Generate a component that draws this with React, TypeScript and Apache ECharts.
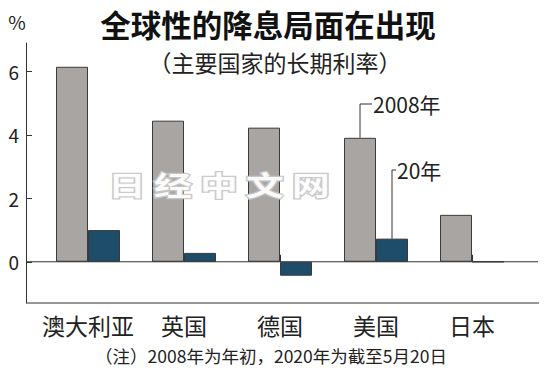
import React, { useEffect, useRef } from "react";
import * as echarts from "echarts";

const categories = ["澳大利亚", "英国", "德国", "美国", "日本"];
const rates2008 = [6.15, 4.45, 4.23, 3.91, 1.48];
const rates2020 = [1.0, 0.28, -0.44, 0.73, 0.0];
const yTicks = [0, 2, 4, 6];
const titleText = "全球性的降息局面在出现";
const subtitleText = "（主要国家的长期利率）";
const noteText = "（注）2008年为年初，2020年为截至5月20日";
const label2008 = "2008年";
const label2020 = "20年";
const unitText = "%";
const watermarkChars = ["日", "经", "中", "文", "网"];

const FONT = '"Noto Sans CJK SC", "Noto Sans", sans-serif';
const GRAY = "#a9a5a3";
const BLUE = "#1e4d6b";
const EDGE = "#3a3a3a";
const AXIS = "#333";
const BAR_W = 32;

export default function App() {
  const ref = useRef<HTMLDivElement>(null);
  useEffect(() => {
    document.body.style.margin = "0";
    if (!ref.current) return;
    const chart = echarts.init(ref.current, null, { renderer: "svg", width: 550, height: 374 });
    const option: any = {
      animation: false,
      backgroundColor: "#fff",
      textStyle: { fontFamily: FONT },
      grid: { left: 40, right: 30, top: 43, bottom: 71 },
      xAxis: {
        type: "category",
        data: categories,
        axisLine: { show: false },
        axisTick: { show: true, inside: true, alignWithLabel: true, length: 7, lineStyle: { color: AXIS } },
        axisLabel: { interval: 0, fontSize: 23, margin: 10, color: "#222", fontFamily: FONT },
      },
      yAxis: {
        type: "value",
        min: -1.3,
        max: 6.9,
        offset: 14,
        axisLine: { show: true, lineStyle: { color: AXIS } },
        axisTick: { show: true, inside: true, length: 6, customValues: yTicks, lineStyle: { color: AXIS } },
        axisLabel: { customValues: yTicks, fontSize: 19, color: "#222", margin: 7, fontFamily: FONT },
        splitLine: { show: false },
      },
      series: [
        {
          name: "2008年",
          type: "bar",
          data: rates2008,
          barWidth: BAR_W,
          barGap: "0%",
          itemStyle: { color: GRAY, borderColor: EDGE, borderWidth: 1 },
        },
        {
          name: "2020年",
          type: "bar",
          data: rates2020,
          barWidth: BAR_W,
          barGap: "0%",
          itemStyle: { color: BLUE, borderColor: EDGE, borderWidth: 1 },
        },
      ],
    };
    chart.setOption(option);

    const y0 = chart.convertToPixel({ yAxisIndex: 0 }, 0) as number;
    const yMin = chart.convertToPixel({ yAxisIndex: 0 }, -1.3) as number;
    const cxUS = chart.convertToPixel({ xAxisIndex: 0 }, categories[3]) as number;
    const yUS08 = chart.convertToPixel({ yAxisIndex: 0 }, rates2008[3]) as number;
    const yUS20 = chart.convertToPixel({ yAxisIndex: 0 }, rates2020[3]) as number;
    const gx = cxUS - BAR_W / 2;
    const bx = cxUS + BAR_W / 2;
    const lbl08Y = 104;
    const lbl20Y = 170;

    const lineStyle = { stroke: AXIS, lineWidth: 1 };

    chart.setOption({
      graphic: [
        {
          type: "group",
          silent: true,
          children: watermarkChars.map((c, i) => ({
            type: "text",
            x: 127 + i * 46,
            y: 184,
            scaleX: 1.4,
            style: {
              text: c,
              fontSize: 27,
              fontWeight: "bold",
              fontFamily: FONT,
              fill: "#ffffff",
              stroke: "#c8c8c8",
              lineWidth: 2.5,
              align: "center",
              verticalAlign: "middle",
              opacity: 0.95,
            },
            z: 100,
          })),
        },
        { type: "line", shape: { x1: 26, y1: y0, x2: 538, y2: y0 }, style: lineStyle, z: 50 },
        { type: "line", shape: { x1: 26, y1: yMin, x2: 539, y2: yMin }, style: lineStyle, z: 50 },
        {
          type: "polyline",
          shape: { points: [[gx, yUS08], [gx, lbl08Y], [gx + 12, lbl08Y]] },
          style: { ...lineStyle, fill: "none" },
          z: 50,
        },
        {
          type: "polyline",
          shape: { points: [[bx, yUS20], [bx, lbl20Y], [bx + 4, lbl20Y]] },
          style: { ...lineStyle, fill: "none" },
          z: 50,
        },
        {
          type: "text",
          x: gx + 13,
          y: lbl08Y,
          style: { text: label2008, fontSize: 21, fontFamily: FONT, fill: "#222", align: "left", verticalAlign: "middle" },
          z: 50,
        },
        {
          type: "text",
          x: bx + 5,
          y: lbl20Y,
          style: { text: label2020, fontSize: 21, fontFamily: FONT, fill: "#222", align: "left", verticalAlign: "middle" },
          z: 50,
        },
        {
          type: "text",
          x: 268,
          y: 24,
          style: { text: titleText, fontSize: 30.5, fontWeight: "bold", fontFamily: FONT, fill: "#111", align: "center", verticalAlign: "middle" },
        },
        {
          type: "text",
          x: 275,
          y: 62,
          style: { text: subtitleText, fontSize: 23, fontFamily: FONT, fill: "#222", align: "center", verticalAlign: "middle" },
        },
        {
          type: "text",
          x: 17,
          y: 21,
          style: { text: unitText, fontSize: 19, fontFamily: FONT, fill: "#222", align: "center", verticalAlign: "middle" },
        },
        {
          type: "text",
          x: 271,
          y: 355,
          style: { text: noteText, fontSize: 17.5, fontFamily: FONT, fill: "#222", align: "center", verticalAlign: "middle" },
        },
      ],
    });

    return () => chart.dispose();
  }, []);
  return <div ref={ref} style={{ width: 550, height: 374 }} />;
}
